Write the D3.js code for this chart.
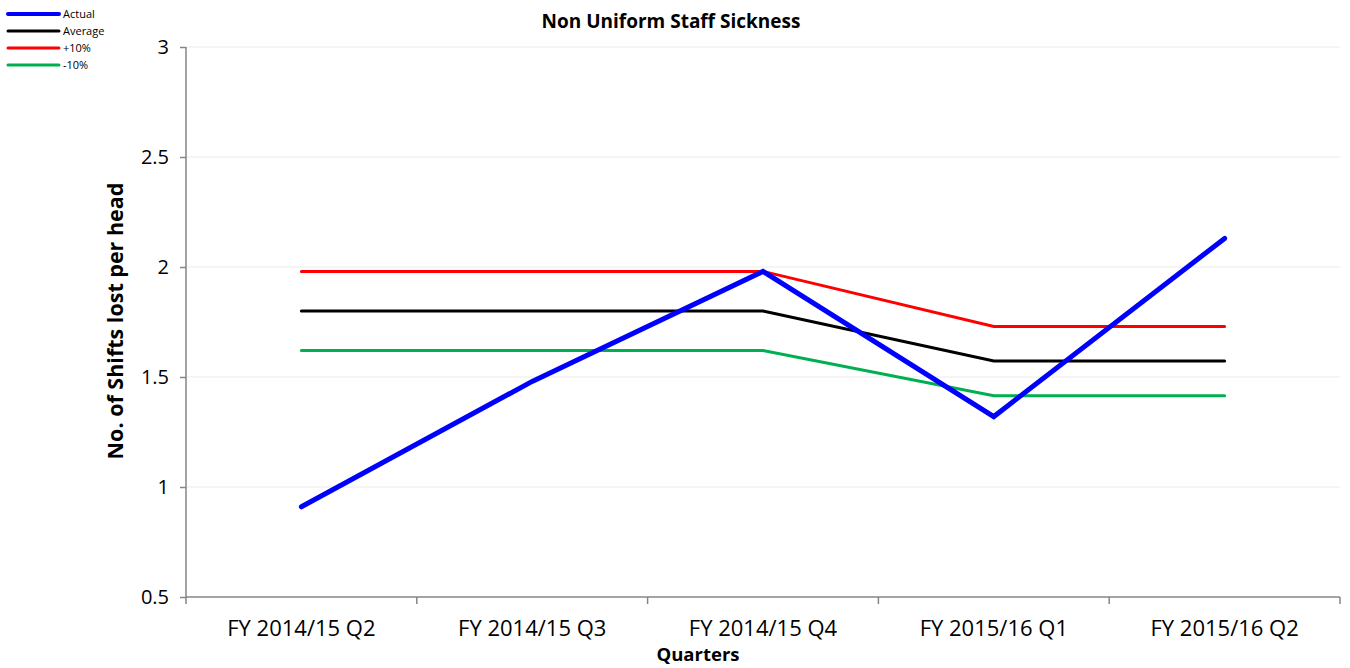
<!DOCTYPE html>
<html>
<head>
<meta charset="utf-8">
<script src="https://cdn.jsdelivr.net/npm/d3@7.9.0/dist/d3.min.js"></script>
<style>
  body { margin: 0; background: #fff; }
  svg { font-family: "Open Sans", "Liberation Sans", sans-serif; }
</style>
</head>
<body>
<svg width="1350" height="668"></svg>
<script>
// Chart data
const quarters = ["FY 2014/15 Q2", "FY 2014/15 Q3", "FY 2014/15 Q4", "FY 2015/16 Q1", "FY 2015/16 Q2"];
const actual = [0.91, 1.48, 1.98, 1.32, 2.13];
const average = [1.8, 1.8, 1.8, 1.573, 1.573];
const plus10 = [1.98, 1.98, 1.98, 1.73, 1.73];
const minus10 = [1.62, 1.62, 1.62, 1.415, 1.415];
const yTicks = [0.5, 1, 1.5, 2, 2.5, 3];

const series = [
  { name: "Actual", values: actual, color: "#0000ff", width: 5, legendWidth: 4 },
  { name: "Average", values: average, color: "#000000", width: 3, legendWidth: 3 },
  { name: "+10%", values: plus10, color: "#ff0000", width: 3, legendWidth: 3 },
  { name: "-10%", values: minus10, color: "#00b050", width: 3, legendWidth: 3 }
];

const FONT = '"Open Sans", "Liberation Sans", sans-serif';
const svg = d3.select("svg");
const plotL = 186, plotR = 1340, plotT = 47, plotB = 597;

const x = d3.scaleBand().domain(quarters).range([plotL, plotR]);
const y = d3.scaleLinear().domain([0.5, 3]).range([plotB, plotT]);

// gridlines
svg.append("g")
  .selectAll("line")
  .data(yTicks.slice(1))
  .join("line")
  .attr("x1", plotL).attr("x2", plotR)
  .attr("y1", (d) => y(d)).attr("y2", (d) => y(d))
  .attr("stroke", "#ececec").attr("stroke-width", 1.2);

// y axis
const yAxis = svg.append("g")
  .attr("transform", `translate(${plotL},0)`)
  .call(d3.axisLeft(y).tickValues(yTicks).tickSize(6).tickPadding(11).tickFormat(d3.format("")));
yAxis.attr("font-family", FONT);
yAxis.selectAll("path, line").attr("stroke", "#868686").attr("stroke-width", 1.5);
yAxis.select(".domain").attr("d", `M0,${plotB}V${plotT}`);
yAxis.selectAll("text").attr("font-size", 20).attr("fill", "#000");

// x axis
const xAxis = svg.append("g")
  .attr("transform", `translate(0,${plotB})`)
  .call(d3.axisBottom(x).tickSize(0).tickPadding(23));
xAxis.attr("font-family", FONT);
xAxis.select(".domain").attr("d", `M${plotL},0H${plotR}`).attr("stroke", "#868686").attr("stroke-width", 1.5);
xAxis.selectAll("text").attr("font-size", 22).attr("fill", "#000");

// x tick marks at band boundaries
const bounds = quarters.map((q) => x(q)).concat([plotR]);
svg.append("g")
  .selectAll("line")
  .data(bounds)
  .join("line")
  .attr("x1", (d) => d).attr("x2", (d) => d)
  .attr("y1", plotB).attr("y2", plotB + 7)
  .attr("stroke", "#868686").attr("stroke-width", 1.5);

// lines
const line = d3.line()
  .x((d, i) => x(quarters[i]) + x.bandwidth() / 2)
  .y((d) => y(d));

[series[2], series[1], series[3], series[0]].forEach((s) => {
  svg.append("path")
    .datum(s.values)
    .attr("d", line)
    .attr("fill", "none")
    .attr("stroke", s.color)
    .attr("stroke-width", s.width)
    .attr("stroke-linejoin", "miter")
    .attr("stroke-linecap", "round");
});

// titles
svg.append("text")
  .attr("x", 671).attr("y", 28)
  .attr("text-anchor", "middle")
  .attr("font-size", 19).attr("font-weight", "bold")
  .text("Non Uniform Staff Sickness");

svg.append("text")
  .attr("x", 698).attr("y", 661)
  .attr("text-anchor", "middle")
  .attr("font-size", 18.5).attr("font-weight", "bold")
  .text("Quarters");

svg.append("text")
  .attr("transform", `translate(123,${(plotT + plotB) / 2 - 1}) rotate(-90)`)
  .attr("text-anchor", "middle")
  .attr("font-size", 21.5).attr("font-weight", "bold")
  .text("No. of Shifts lost per head");

// legend
const legend = svg.append("g");
series.forEach((s, i) => {
  const ly = 14 + i * 17;
  legend.append("line")
    .attr("x1", 8).attr("x2", 59)
    .attr("y1", ly).attr("y2", ly)
    .attr("stroke", s.color)
    .attr("stroke-width", s.legendWidth)
    .attr("stroke-linecap", "round");
  legend.append("text")
    .attr("x", 63).attr("y", ly + 4)
    .attr("font-size", 11)
    .text(s.name);
});
</script>
</body>
</html>
